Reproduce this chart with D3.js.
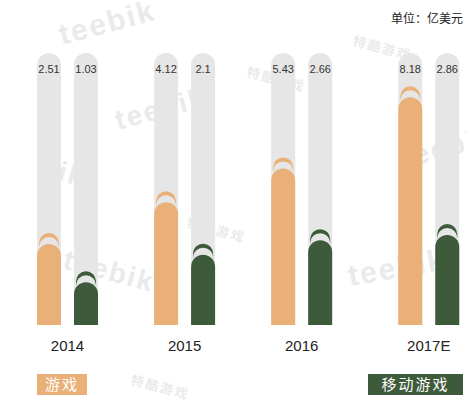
<!DOCTYPE html>
<html><head><meta charset="utf-8">
<script src="https://cdn.jsdelivr.net/npm/d3@7"></script>
<style>body{margin:0;background:#fff}</style>
</head><body>
<svg id="chart" width="466" height="401"></svg>
<script>
const years = ['2014', '2015', '2016', '2017E']
const games = [2.51, 4.12, 5.43, 8.18]
const mobile = [1.03, 2.1, 2.66, 2.86]
const seriesNames = ['游戏', '移动游戏']
const colors = ['#e9b078', '#3d5a3a']

const svg = d3.select('#chart')
const font = 'Liberation Sans, Arial, sans-serif'

// watermarks
const marks = [['teebik', 62, 45, -15, 30], ['特酷游戏', 352, 45, 15, 13], ['teebik', 118, 130, -15, 28],
  ['特酷游戏', 186, 227, 15, 13], ['teebik', 62, 268, 15, 28], ['特酷游戏', 246, 76, 15, 13],
  ['teebik', 350, 286, -10, 30], ['特酷游戏', 130, 384, 15, 13], ['bik', 38, 175, 15, 28], ['teebik', 405, 168, -15, 28]]
marks.forEach(m => svg.append('text').text(m[0]).attr('transform', `translate(${m[1]},${m[2]}) rotate(${m[3]})`)
  .attr('font-size', m[4]).attr('font-family', m[0] === 'teebik' || m[0] === 'bik' ? font : 'Noto Sans CJK SC')
  .attr('font-weight', 'bold').attr('fill', '#e2e2e2').attr('opacity', 0.7).attr('letter-spacing', 2))

const x = d3.scaleBand().domain(years).range([30, 496]).paddingInner(0.02)
const bw = 24, gap = 13
const y = d3.scaleLinear().domain([0, 9]).range([309, 76])
const base = 325

const rr = (g, x0, top, h, fill, w = bw) => g.append('path')
  .attr('d', `M${x0},${top + h}V${top + w / 2}A${w / 2},${w / 2} 0 0 1 ${x0 + w},${top + w / 2}V${top + h}Z`)
  .attr('fill', fill)

years.forEach((yr, i) => {
  const g = svg.append('g')
  const x0 = x(yr) + (i === 3 ? 10 : 0) + 7
  ;[games[i], mobile[i]].forEach((v, j) => {
    const bx = x0 + j * (bw + gap)
    rr(g, bx, 53, base - 53, '#e6e6e6')
    const t = y(v)
    rr(g, bx + 2, t - 11, 14, colors[j], bw - 4)
    rr(g, bx + 2, t - 7, 14, '#e6e6e6', bw - 4)
    rr(g, bx, t, base - t, colors[j])
    g.append('text').attr('x', bx + bw / 2).attr('y', 73).attr('text-anchor', 'middle')
      .attr('font-size', 11).attr('font-family', font).attr('fill', '#333').text(v)
  })
  g.append('text').attr('x', x0 + bw + gap / 2).attr('y', 351).attr('text-anchor', 'middle')
    .attr('font-size', 15).attr('font-family', font).attr('fill', '#222').text(yr)
})

svg.append('text').attr('x', 463).attr('y', 23).attr('text-anchor', 'end').attr('font-size', 12)
  .attr('font-family', 'Noto Sans CJK SC').attr('fill', '#222').text('单位：亿美元')

const legend = [[37, 50], [368, 95]]
seriesNames.forEach((n, i) => {
  svg.append('rect').attr('x', legend[i][0]).attr('y', 374).attr('width', legend[i][1]).attr('height', 21).attr('fill', colors[i])
  svg.append('text').attr('x', legend[i][0] + legend[i][1] / 2).attr('y', 390).attr('text-anchor', 'middle')
    .attr('font-size', 15).attr('font-family', 'Noto Sans CJK SC').attr('fill', '#fff').attr('letter-spacing', 2).text(n)
})
</script>
</body></html>
